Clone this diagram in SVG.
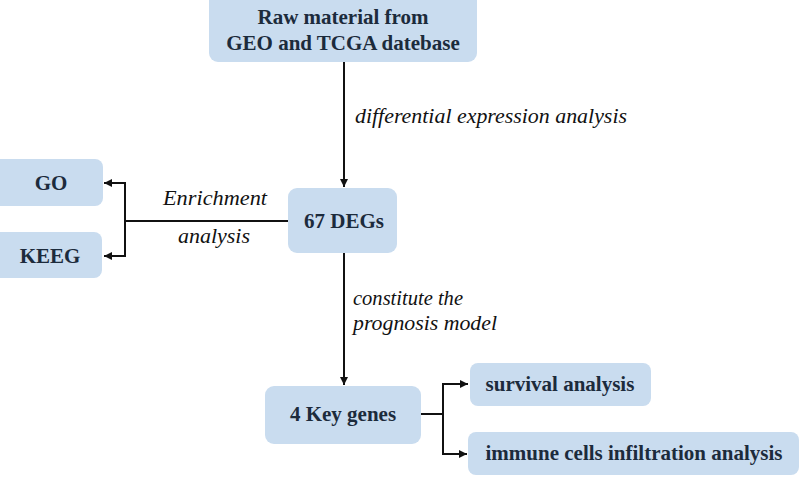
<svg xmlns="http://www.w3.org/2000/svg" width="800" height="477" viewBox="0 0 800 477">
<style>
.box{fill:#c9dcef;}
.t{font-family:"Liberation Serif","DejaVu Serif",serif;font-weight:bold;font-size:21px;fill:#1c2b3c;text-anchor:middle;}
.l{font-family:"Liberation Serif","DejaVu Serif",serif;font-style:italic;font-size:20px;fill:#111;}
.c{stroke:#111;stroke-width:2;fill:none;}
</style>
<defs>
<marker id="ah" viewBox="0 0 10 10" refX="10" refY="5" markerWidth="4" markerHeight="4" orient="auto" markerUnits="strokeWidth">
<path d="M0,0 L10,5 L0,10 z" fill="#111"/>
</marker>
</defs>
<rect width="800" height="477" fill="#fff"/>
<g id="connectors">
<line class="c" x1="344" y1="62" x2="344" y2="187" marker-end="url(#ah)"/>
<line class="c" x1="344" y1="253" x2="344" y2="385" marker-end="url(#ah)"/>
<line class="c" x1="288" y1="221" x2="125" y2="221"/>
<polyline class="c" points="125,221 125,183 104,183" marker-end="url(#ah)"/>
<polyline class="c" points="125,221 125,256 104,256" marker-end="url(#ah)"/>
<line class="c" x1="421" y1="414" x2="443" y2="414"/>
<polyline class="c" points="443,414 443,384 468,384" marker-end="url(#ah)"/>
<polyline class="c" points="443,414 443,454 467,454" marker-end="url(#ah)"/>
<text class="l" x="355" y="123" textLength="272" lengthAdjust="spacingAndGlyphs">differential expression analysis</text>
<text class="l" x="163" y="205" textLength="104" lengthAdjust="spacingAndGlyphs">Enrichment</text>
<text class="l" x="178" y="243" textLength="72" lengthAdjust="spacingAndGlyphs">analysis</text>
<text class="l" x="353" y="305" textLength="110" lengthAdjust="spacingAndGlyphs">constitute the</text>
<text class="l" x="353" y="330" textLength="144" lengthAdjust="spacingAndGlyphs">prognosis model</text>
</g>
<g id="raw">
<rect class="box" x="209" y="-8" width="268" height="70" rx="9"/>
<text class="t" x="343" y="24">Raw material from</text>
<text class="t" x="343" y="50">GEO and TCGA datebase</text>
</g>
<g id="degs">
<rect class="box" x="288" y="188" width="109" height="65" rx="9"/>
<text class="t" x="344" y="228">67 DEGs</text>
</g>
<g id="go">
<rect class="box" x="-8" y="159" width="111" height="47" rx="8"/>
<text class="t" x="51" y="190">GO</text>
</g>
<g id="keeg">
<rect class="box" x="-8" y="232" width="110" height="46" rx="8"/>
<text class="t" x="50" y="263">KEEG</text>
</g>
<g id="keygenes">
<rect class="box" x="265" y="386" width="156" height="58" rx="9"/>
<text class="t" x="343" y="421">4 Key genes</text>
</g>
<g id="survival">
<rect class="box" x="470" y="363" width="181" height="43" rx="8"/>
<text class="t" x="560" y="391">survival analysis</text>
</g>
<g id="immune">
<rect class="box" x="468" y="432" width="331" height="43" rx="8"/>
<text class="t" x="634" y="460">immune cells infiltration analysis</text>
</g>
</svg>
